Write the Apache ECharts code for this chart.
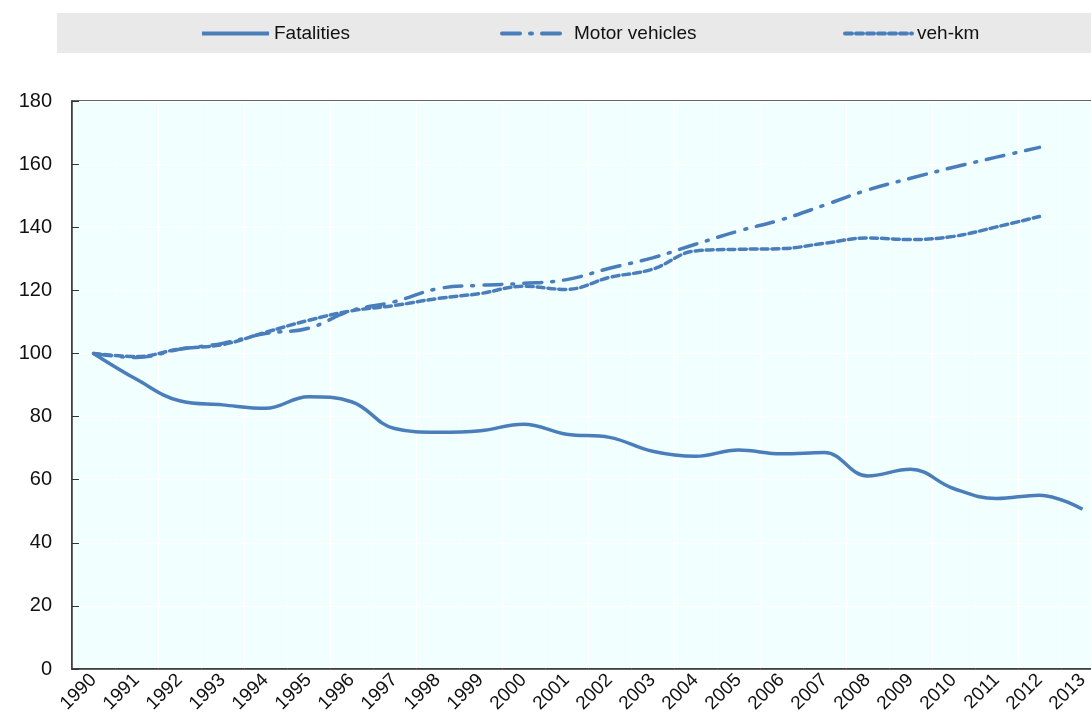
<!DOCTYPE html>
<html>
<head>
<meta charset="utf-8">
<script src="https://cdn.jsdelivr.net/npm/echarts@6/dist/echarts.min.js"></script>
<style>
  html, body { margin: 0; padding: 0; background: #fff; }
  #chart { width: 1091px; height: 722px; }
</style>
</head>
<body>
<div id="chart"></div>
<script>
var years = ['1990','1991','1992','1993','1994','1995','1996','1997','1998','1999','2000','2001',
  '2002','2003','2004','2005','2006','2007','2008','2009','2010','2011','2012','2013'];
var fatalities = [100, 91.8, 85, 83.7, 82.6, 86.3, 84.7, 76.2, 75, 75.5, 77.6, 74.4,
  73.4, 69, 67.4, 69.4, 68.2, 68.6, 61.2, 63.3, 57.2, 54, 55.1, 50.6];
var motorVehicles = [100, 98.7, 101.3, 103.2, 106.3, 108, 113.6, 116.4, 120.5, 121.6, 122.2, 123.4,
  127, 130.3, 134.6, 138.8, 142.4, 147, 151.8, 155.5, 159, 162.2, 165.3, null];
var vehKm = [100, 99, 101.4, 102.8, 106.7, 110.5, 113.5, 115.2, 117.4, 119, 121.3, 120.3,
  124.1, 126.7, 132.5, 133, 133.2, 134.9, 136.6, 136.1, 137.1, 140.1, 143.4, null];

var blue = '#4a7ebb';
var font = 'Liberation Sans';

function legendAt(left, name) {
  return {
    left: left, top: 19,
    itemWidth: 67, itemHeight: 14, itemGap: 6,
    data: [name],
    itemStyle: { opacity: 0 },
    lineStyle: { width: 4 },
    textStyle: { fontFamily: font, fontSize: 19, color: '#111' }
  };
}

var chart = echarts.init(document.getElementById('chart'));
chart.setOption({
  animation: false,
  graphic: [{
    type: 'rect', left: 57, top: 13, z: -1,
    shape: { width: 1040, height: 40 },
    style: { fill: '#e9e9e9' }
  }],
  legend: [
    legendAt(195, 'Fatalities'),
    legendAt(495, 'Motor vehicles'),
    legendAt(838, 'veh-km')
  ],
  grid: {
    left: 72, top: 101, right: -13, bottom: 53,
    outerBoundsMode: 'none',
    show: true, backgroundColor: '#f2ffff',
    borderColor: '#333', borderWidth: 1.5
  },
  xAxis: {
    type: 'category', data: years, boundaryGap: true,
    axisLine: { lineStyle: { color: '#333', width: 1.5 } },
    axisTick: { inside: true, length: 7, interval: 0, lineStyle: { color: '#333' } },
    splitLine: { show: true, interval: 0, lineStyle: { color: '#ffffff', width: 1 } },
    axisLabel: { interval: 0, rotate: 45, margin: 8, fontFamily: font, fontSize: 19, color: '#111' }
  },
  yAxis: {
    type: 'value', min: 0, max: 180, interval: 20,
    axisLine: { show: true, lineStyle: { color: '#333', width: 1.5 } },
    axisTick: { show: true, inside: true, length: 7, lineStyle: { color: '#333' } },
    splitLine: { show: true, lineStyle: { color: '#ffffff', width: 1 } },
    axisLabel: { margin: 20, fontFamily: font, fontSize: 20, color: '#111' }
  },
  series: [
    {
      name: 'Fatalities', type: 'line', data: fatalities,
      smooth: 0.4, symbol: 'none',
      itemStyle: { color: blue },
      lineStyle: { color: blue, width: 3.5 }
    },
    {
      name: 'Motor vehicles', type: 'line', data: motorVehicles,
      smooth: 0.4, symbol: 'none',
      itemStyle: { color: blue },
      lineStyle: { color: blue, width: 3.5, type: [18, 10, 2, 10], cap: 'round' }
    },
    {
      name: 'veh-km', type: 'line', data: vehKm,
      smooth: 0.4, symbol: 'none',
      itemStyle: { color: blue },
      lineStyle: { color: blue, width: 3.5, type: [7, 4], cap: 'round' }
    }
  ]
});
</script>
</body>
</html>
